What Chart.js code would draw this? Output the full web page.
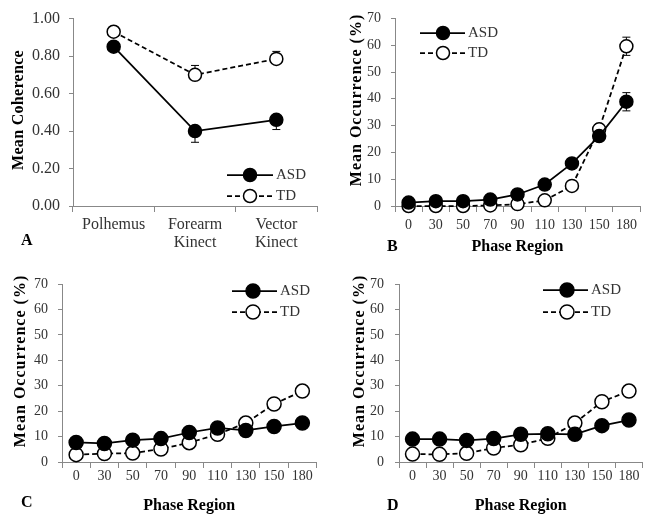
<!DOCTYPE html>
<html>
<head>
<meta charset="utf-8">
<script src="https://cdn.jsdelivr.net/npm/chart.js@4.4.0/dist/chart.umd.min.js"></script>
<style>
    html, body { margin: 0; padding: 0; background: #fff; }
    #fig { position: relative; width: 651px; height: 514px; }
    #fig canvas { position: absolute; }
</style>
</head>
<body>
<div id="fig">
    <canvas id="chart-a" width="325" height="260" style="left:0;top:0"></canvas>
    <canvas id="chart-b" width="326" height="260" style="left:325px;top:0"></canvas>
    <canvas id="chart-c" width="325" height="254" style="left:0;top:260px"></canvas>
    <canvas id="chart-d" width="326" height="254" style="left:325px;top:260px"></canvas>
</div>
<script>
/* ── data ─────────────────────────────────────────────── */
const groupNames = ['ASD', 'TD'];

// A — mean coherence per sensor
const sensorLabels = ['Polhemus', ['Forearm', 'Kinect'], ['Vector', 'Kinect']];
const coherenceASD = [0.85, 0.40, 0.46];
const coherenceTD = [0.93, 0.70, 0.785];
const coherenceASDErr = [0.02, 0.06, 0.052];   // drawn below (minus)
const coherenceTDErr = [0.02, 0.05, 0.04];     // drawn above (plus)

// B, C, D — mean occurrence (%) per phase region
const phaseLabels = ['0', '30', '50', '70', '90', '110', '130', '150', '180'];
const occurrenceASD_B = [1.3, 1.8, 1.8, 2.4, 4.3, 8.0, 15.9, 26.1, 38.9];
const occurrenceTD_B = [0, 0, 0, 0.2, 0.7, 2.1, 7.5, 28.6, 59.6];
const occurrenceASDErr_B = [0.3, 0.3, 0.3, 0.4, 0.6, 1.0, 1.5, 1.8, 3.4];
const occurrenceTDErr_B = [0, 0, 0, 0.1, 0.3, 0.6, 1.2, 2.0, 3.4];
const occurrenceASD_C = [7.7, 7.3, 8.6, 9.2, 11.6, 13.4, 12.4, 14.0, 15.3];
const occurrenceTD_C = [2.9, 3.3, 3.5, 5.1, 7.6, 10.9, 15.3, 22.8, 27.9];
const occurrenceASD_D = [9.0, 9.0, 8.5, 9.2, 10.9, 11.1, 10.9, 14.3, 16.5];
const occurrenceTD_D = [3.1, 3.0, 3.4, 5.5, 6.8, 9.3, 15.3, 23.7, 27.9];

const AXIS = '#888';
const INK = '#333';
const SERIF = '"Liberation Serif", "Times New Roman", serif';

/* ── plugins ──────────────────────────────────────────── */
// error bars, drawn under the markers
const errorBars = {
    id: 'errorBars',
    beforeDatasetsDraw(chart) {
        const { ctx } = chart;
        const y = chart.scales.y;
        chart.data.datasets.forEach((ds, i) => {
            const meta = chart.getDatasetMeta(i);
            ctx.save();
            ctx.strokeStyle = '#000';
            ctx.lineWidth = 1;
            meta.data.forEach((pt, j) => {
                const v = ds.data[j];
                const ends = [];
                if (ds.errPlus && ds.errPlus[j]) ends.push(y.getPixelForValue(v + ds.errPlus[j]));
                if (ds.errMinus && ds.errMinus[j]) ends.push(y.getPixelForValue(v - ds.errMinus[j]));
                ends.forEach(ye => {
                    ctx.beginPath();
                    ctx.moveTo(pt.x, pt.y); ctx.lineTo(pt.x, ye);
                    ctx.moveTo(pt.x - 4, ye); ctx.lineTo(pt.x + 4, ye);
                    ctx.stroke();
                });
            });
            ctx.restore();
        });
    }
};

// line + marker key, as in the original figure
const seriesKey = {
    id: 'seriesKey',
    afterDraw(chart, args, opts) {
        const { ctx } = chart;
        chart.data.datasets.forEach((ds, i) => {
            const y = opts.rows[i];
            ctx.save();
            ctx.strokeStyle = '#000';
            ctx.lineWidth = ds.borderWidth;
            ctx.setLineDash(ds.borderDash || []);
            ctx.beginPath(); ctx.moveTo(opts.x0, y); ctx.lineTo(opts.x1, y); ctx.stroke();
            ctx.setLineDash([]);
            ctx.beginPath(); ctx.arc(opts.mx, y, ds.pointRadius, 0, Math.PI * 2);
            ctx.fillStyle = ds.pointBackgroundColor; ctx.fill();
            ctx.lineWidth = ds.pointBorderWidth; ctx.stroke();
            ctx.fillStyle = INK;
            ctx.font = '15px ' + SERIF;
            ctx.textBaseline = 'middle';
            ctx.fillText(ds.label, opts.x1 + 3, y);
            ctx.restore();
        });
    }
};

// rotated y title and the panel letter
const panelText = {
    id: 'panelText',
    afterDraw(chart, args, opts) {
        const { ctx } = chart;
        ctx.save();
        ctx.fillStyle = '#000';
        ctx.textAlign = 'center';
        ctx.textBaseline = 'middle';
        ctx.font = 'bold 16px ' + SERIF;
        ctx.letterSpacing = opts.spacing + 'px';
        ctx.translate(opts.titleX, opts.titleY);
        ctx.rotate(-Math.PI / 2);
        ctx.fillText(opts.title, 0, 0);
        ctx.restore();
        ctx.save();
        ctx.fillStyle = '#000';
        ctx.font = 'bold 16px ' + SERIF;
        ctx.textBaseline = 'middle';
        ctx.fillText(opts.letter, opts.letterX, opts.letterY);
        ctx.restore();
    }
};

/* ── chart builder ────────────────────────────────────── */
function makePanel(id, p) {
    const canvas = document.getElementById(id);
    const W = canvas.width, H = canvas.height;
    const series = (label, data, errPlus, errMinus, open) => ({
        label, data, errPlus, errMinus,
        borderColor: '#000', borderWidth: 1.75, borderDash: open ? [5, 3] : [],
        pointRadius: p.r, pointBorderWidth: 1.5, pointBorderColor: '#000',
        pointBackgroundColor: open ? '#fff' : '#000',
        tension: 0, clip: false
    });
    return new Chart(canvas, {
        type: 'line',
        data: {
            labels: p.labels,
            datasets: [
                series(groupNames[0], p.asd, p.asdPlus, p.asdMinus, false),
                series(groupNames[1], p.td, p.tdPlus, p.tdMinus, true)
            ]
        },
        options: {
            responsive: false, animation: false,
            layout: { padding: { left: 0, top: p.top, right: W - p.right, bottom: 0 } },
            plugins: {
                legend: { display: false }, tooltip: { enabled: false },
                seriesKey: p.key,
                panelText: p.text
            },
            scales: {
                x: {
                    offset: true,
                    afterFit(s) { s.height = H - p.bottom; },
                    border: { color: AXIS, width: 1 },
                    grid: { offset: true, drawOnChartArea: false, color: AXIS, tickLength: 6 },
                    ticks: { color: INK, padding: p.xPad, maxRotation: 0, autoSkip: false,
                             font: { family: SERIF, size: p.fs, lineHeight: 1.1 } },
                    title: p.xTitle ? { display: true, text: p.xTitle, color: '#000',
                             padding: { top: 0, bottom: p.xTitlePad },
                             font: { family: SERIF, size: 16, weight: 'bold', lineHeight: 1 } }
                           : { display: false }
                },
                y: {
                    min: 0, max: p.yMax,
                    afterFit(s) { s.width = p.left; },
                    border: { color: AXIS, width: 1 },
                    grid: { drawOnChartArea: false, color: AXIS, tickLength: 4 },
                    ticks: { stepSize: p.yStep, color: INK, padding: p.yPad,
                             font: { family: SERIF, size: p.fs },
                             callback: p.fmt }
                }
            }
        },
        plugins: [errorBars, seriesKey, panelText]
    });
}

makePanel('chart-a', {
    labels: sensorLabels, asd: coherenceASD, td: coherenceTD,
    asdMinus: coherenceASDErr, tdPlus: coherenceTDErr, r: 6.5, fs: 16,
    left: 73, right: 317, top: 15, bottom: 206, xPad: 4, yPad: 9,
    yMax: 1, yStep: 0.2, fmt: v => v.toFixed(2),
    key: { x0: 227, x1: 273, mx: 250, rows: [175, 196] },
    text: { title: 'Mean Coherence', titleX: 19, titleY: 110, spacing: 0.3,
            letter: 'A', letterX: 21, letterY: 241 }
});

makePanel('chart-b', {
    labels: phaseLabels, asd: occurrenceASD_B, td: occurrenceTD_B,
    asdPlus: occurrenceASDErr_B, asdMinus: occurrenceASDErr_B,
    tdPlus: occurrenceTDErr_B, tdMinus: occurrenceTDErr_B, r: 6.5, fs: 14,
    left: 70, right: 315, top: 15, bottom: 206, xPad: 6, yPad: 10,
    yMax: 70, yStep: 10, fmt: v => v,
    xTitle: 'Phase Region', xTitlePad: 5,
    key: { x0: 95, x1: 140, mx: 118, rows: [33, 53] },
    text: { title: 'Mean Occurrence (%)', titleX: 32, titleY: 100, spacing: 1,
            letter: 'B', letterX: 62, letterY: 247 }
});

makePanel('chart-c', {
    labels: phaseLabels, asd: occurrenceASD_C, td: occurrenceTD_C, r: 7, fs: 14,
    left: 62, right: 325, top: 24, bottom: 202, xPad: 1, yPad: 10,
    yMax: 70, yStep: 10, fmt: v => v,
    xTitle: 'Phase Region', xTitlePad: 0,
    key: { x0: 232, x1: 277, mx: 253, rows: [31, 52] },
    text: { title: 'Mean Occurrence (%)', titleX: 21, titleY: 101, spacing: 1,
            letter: 'C', letterX: 21, letterY: 243 }
});

makePanel('chart-d', {
    labels: phaseLabels, asd: occurrenceASD_D, td: occurrenceTD_D, r: 7, fs: 14,
    left: 74, right: 318, top: 24, bottom: 202, xPad: 1, yPad: 11,
    yMax: 70, yStep: 10, fmt: v => v,
    xTitle: 'Phase Region', xTitlePad: 0,
    key: { x0: 218, x1: 263, mx: 242, rows: [30, 52] },
    text: { title: 'Mean Occurrence (%)', titleX: 35, titleY: 101, spacing: 1,
            letter: 'D', letterX: 62, letterY: 246 }
});
</script>
</body>
</html>
